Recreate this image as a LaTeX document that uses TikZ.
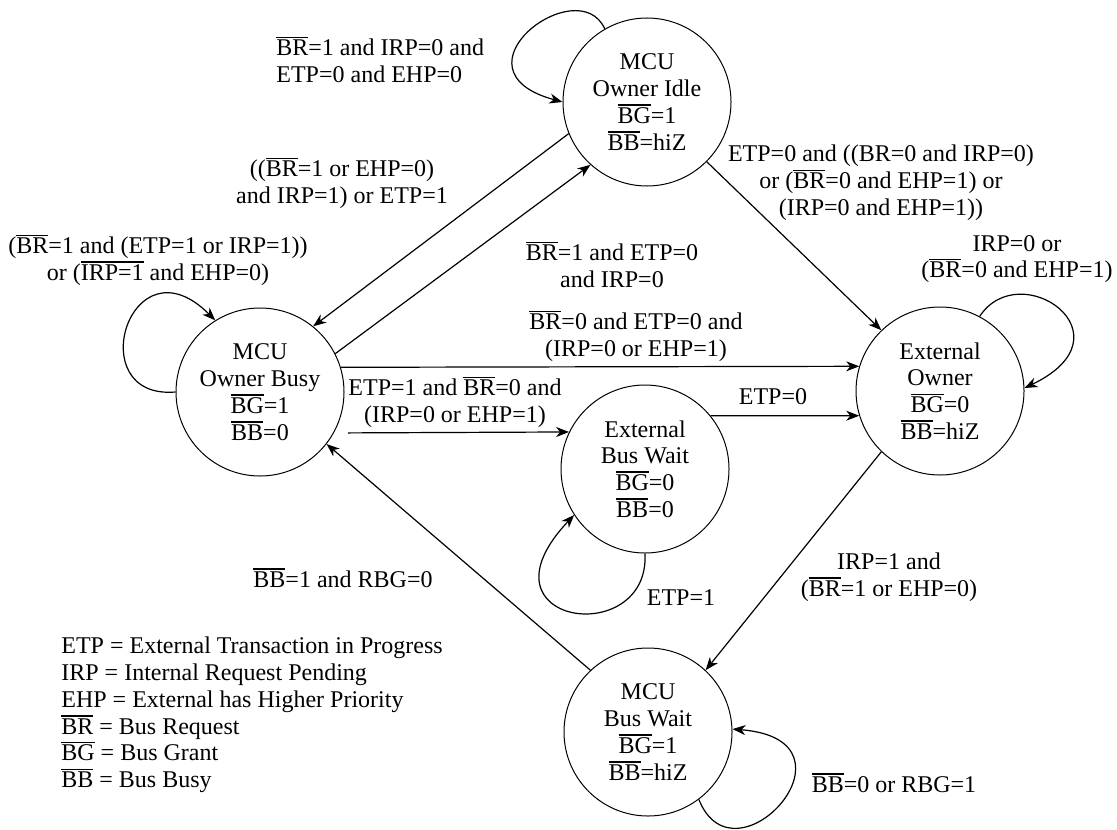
\documentclass[tikz,border=0pt]{standalone}
\usepackage{fontspec}
\setmainfont{Liberation Serif}
\usepackage{tikz}
\usetikzlibrary{arrows.meta}
\newcommand{\ovl}[1]{\leavevmode\vbox{\hrule height 0.75pt\kern 0.9pt\hbox{#1}}}
\begin{document}
\begin{tikzpicture}[
  x=0.5pt, y=-0.5pt,
  every node/.style={font=\fontsize{12}{13.4}\selectfont},
  mcustate/.style={draw, circle, line width=0.5pt, minimum size=84pt, inner sep=0pt, align=center},
  lbl/.style={align=center, inner sep=0pt},
  conn/.style={->, line width=0.6pt},
  >={Stealth[length=6.5pt,width=5pt,inset=2pt]}
]
\useasboundingbox (0,0) rectangle (1117,829);

% states
\node[mcustate] (idle) at (647,102) {MCU\\Owner Idle\\\ovl{BG}=1\\\ovl{BB}=hiZ};
\node[mcustate] (busy) at (260,392) {MCU\\Owner Busy\\\ovl{BG}=1\\\ovl{BB}=0};
\node[mcustate] (ext) at (940,391) {External\\Owner\\\ovl{BG}=0\\\ovl{BB}=hiZ};
\node[mcustate] (ebw) at (645,469) {External\\Bus Wait\\\ovl{BG}=0\\\ovl{BB}=0};
\node[mcustate] (mcubw) at (648,732) {MCU\\Bus Wait\\\ovl{BG}=1\\\ovl{BB}=hiZ};

% transitions
\draw[conn] (idle.120) .. controls (578,-30) and (445,70) .. (idle.180);
\draw[conn] (idle.202) -- (busy.51);
\draw[conn] (busy.27) -- (idle.228);
\draw[conn] (idle.-45) -- (ext.134);
\draw[conn] (busy.17) -- (ext.163);
\draw[conn, shorten <=7pt] (busy.-29) -- (ebw.154);
\draw[conn] (ebw.39) -- (ext.197);
\draw[conn] (ebw.south) .. controls (650,650) and (470,625) .. (ebw.213);
\draw[conn] (ext.62) .. controls (1020,255) and (1135,335) .. (ext.2);
\draw[conn] (ext.226) -- (mcubw.47);
\draw[conn] (mcubw.133) -- (busy.-38);
\draw[conn] (mcubw.-53) .. controls (735,890) and (870,740) .. (mcubw.2);
\draw[conn] (busy.180) .. controls (80,400) and (130,235) .. (busy.122);

% conditions
\node[lbl, anchor=west, align=left] (cidle) at (276,60) {\ovl{BR}=1 and IRP=0 and\\ETP=0 and EHP=0};
\node[lbl] (cidlebusy) at (342,183) {((\ovl{BR}=1 or EHP=0)\\and IRP=1) or ETP=1};
\node[lbl] (cbusyidle) at (612,265) {\ovl{BR}=1 and ETP=0\\and IRP=0};
\node[lbl] (cidleext) at (881,183) {ETP=0 and ((BR=0 and IRP=0)\\or (\ovl{BR}=0 and EHP=1) or\\(IRP=0 and EHP=1))};
\node[lbl] (cext) at (1017,259) {IRP=0 or\\(\ovl{BR}=0 and EHP=1)};
\node[lbl] (cbusyext) at (636,336) {\ovl{BR}=0 and ETP=0 and\\(IRP=0 or EHP=1)};
\node[lbl] (cbusyebw) at (455,402) {ETP=1 and \ovl{BR}=0 and\\(IRP=0 or EHP=1)};
\node[lbl] (cebwext) at (773,397) {ETP=0};
\node[lbl] (cebw) at (681,598) {ETP=1};
\node[lbl] (cextmcubw) at (889,577) {IRP=1 and\\(\ovl{BR}=1 or EHP=0)};
\node[lbl] (cmcubwbusy) at (343,578) {\ovl{BB}=1 and RBG=0};
\node[lbl] (cmcubw) at (894,783) {\ovl{BB}=0 or RBG=1};
\node[lbl] (cbusy) at (158,260) {(\ovl{BR}=1 and (ETP=1 or IRP=1))\\or (\ovl{IRP=1} and EHP=0)};

\node[lbl, anchor=west, align=left] (legend) at (61,715) {ETP = External Transaction in Progress\\IRP = Internal Request Pending\\EHP = External has Higher Priority\\\ovl{BR} = Bus Request\\\ovl{BG} = Bus Grant\\\ovl{BB} = Bus Busy};
\end{tikzpicture}
\end{document}
